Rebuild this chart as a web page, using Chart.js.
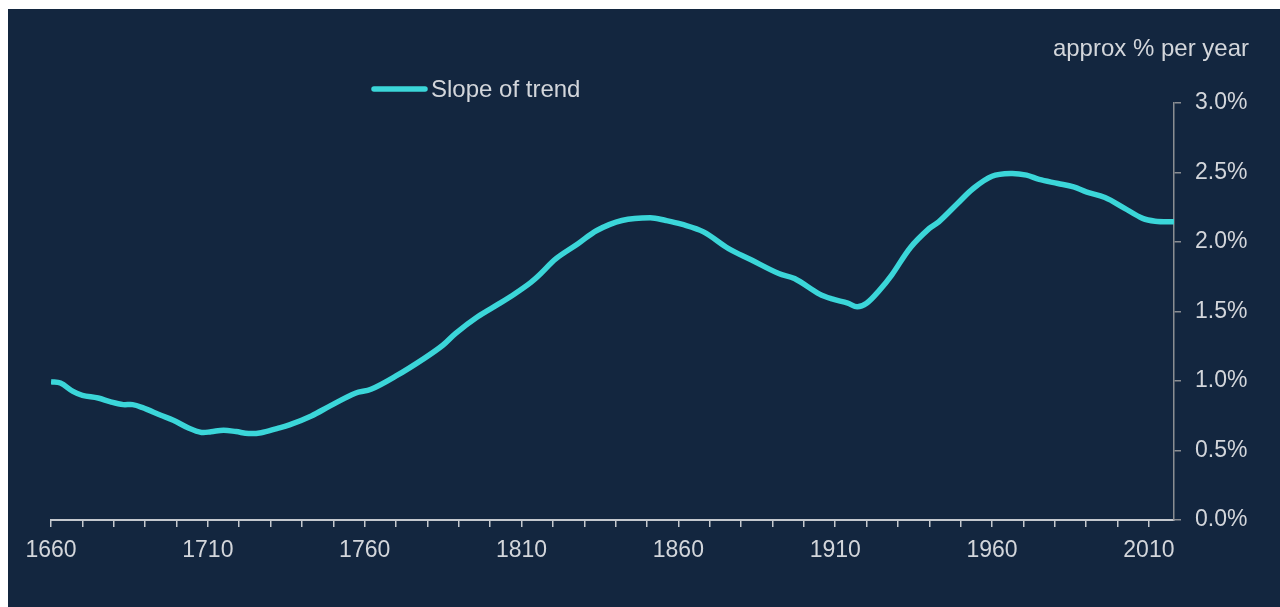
<!DOCTYPE html>
<html>
<head>
<meta charset="utf-8">
<script src="https://cdn.jsdelivr.net/npm/chart.js@4.4.1/dist/chart.umd.min.js"></script>
<style>
  html, body { margin: 0; padding: 0; background: #ffffff; }
  #panel { position: absolute; left: 8px; top: 9px; width: 1272px; height: 598px; background: #13263f; }
  #panel canvas { display: block; }
</style>
</head>
<body>
<div id="panel"><canvas id="slope" width="1272" height="598"></canvas></div>
<script>
// years and slope of the long-run trend (approx % per year)
const years = [1660, 1663, 1667, 1670, 1675, 1679, 1683, 1686, 1689, 1695, 1699, 1704, 1708, 1711, 1715, 1719, 1723, 1727, 1732, 1736,
  1743, 1749, 1757, 1762, 1770, 1779, 1785, 1789, 1796, 1803, 1808, 1813, 1816, 1821, 1828, 1834, 1842, 1851, 1856, 1861,
  1868, 1876, 1883, 1892, 1897, 1905, 1909, 1914, 1917, 1920, 1924, 1928, 1934, 1940, 1943, 1949, 1954, 1960, 1966, 1971,
  1975, 1981, 1986, 1990, 1996, 2002, 2008, 2012, 2018];
const slope = [0.995, 0.985, 0.925, 0.897, 0.878, 0.850, 0.830, 0.830, 0.810, 0.754, 0.718, 0.660, 0.630, 0.635, 0.646, 0.636, 0.622, 0.628, 0.658, 0.684,
  0.749, 0.821, 0.912, 0.940, 1.036, 1.163, 1.259, 1.343, 1.462, 1.558, 1.630, 1.710, 1.770, 1.880, 1.987, 2.083, 2.155, 2.175, 2.155, 2.128,
  2.073, 1.953, 1.874, 1.773, 1.737, 1.625, 1.590, 1.560, 1.534, 1.559, 1.650, 1.762, 1.961, 2.098, 2.145, 2.277, 2.385, 2.473, 2.493, 2.481,
  2.450, 2.421, 2.396, 2.361, 2.320, 2.246, 2.170, 2.150, 2.145];
const seriesName = "Slope of trend";
const unitLabel = "approx % per year";

const textColor = "#d3d6db";
const lineColor = "#3bd6d9";
const fontFamily = "'Liberation Sans', Arial, sans-serif";

// legend + unit label drawn above the plot
const extras = {
  id: "extras",
  afterDraw(chart) {
    const c = chart.ctx;
    const ds = chart.data.datasets[0];
    c.save();
    c.strokeStyle = ds.borderColor;
    c.lineWidth = 5.5;
    c.lineCap = "round";
    c.beginPath();
    c.moveTo(366, 80);
    c.lineTo(417, 80);
    c.stroke();
    c.fillStyle = textColor;
    c.font = "24px " + fontFamily;
    c.textBaseline = "middle";
    c.textAlign = "left";
    c.fillText(ds.label, 423, 81);
    c.textAlign = "right";
    c.fillText(unitLabel, 1241, 40);
    c.restore();
  }
};

new Chart(document.getElementById("slope"), {
  type: "line",
  data: {
    datasets: [{
      label: seriesName,
      data: years.map((y, i) => ({ x: y, y: slope[i] })),
      borderColor: lineColor,
      borderWidth: 5.5,
      pointRadius: 0,
      tension: 0.35,
      fill: false
    }]
  },
  options: {
    responsive: false,
    animation: false,
    layout: { padding: { left: 43, top: 94, right: 0, bottom: 0 } },
    plugins: { legend: { display: false }, tooltip: { enabled: false } },
    scales: {
      x: {
        type: "linear",
        min: 1660,
        max: 2018,
        afterFit(scale) { scale.height = 87; },
        border: { color: "#c4c8ce", width: 2 },
        grid: { drawOnChartArea: false, drawTicks: true, tickLength: 7, color: "#c4c8ce", lineWidth: 1.5 },
        ticks: {
          stepSize: 10,
          includeBounds: false,
          autoSkip: false,
          maxRotation: 0,
          padding: 10,
          color: textColor,
          font: { family: fontFamily, size: 23 },
          callback: v => ((v - 1660) % 50 === 0 ? String(v) : "")
        }
      },
      y: {
        position: "right",
        min: 0,
        max: 3,
        afterFit(scale) { scale.width = 106; },
        border: { color: "#8a8d92", width: 1.5 },
        grid: { drawOnChartArea: false, drawTicks: true, tickLength: 7, color: "#8a8d92", lineWidth: 1.5 },
        ticks: {
          stepSize: 0.5,
          padding: 14,
          color: textColor,
          font: { family: fontFamily, size: 23 },
          callback: v => v.toFixed(1) + "%"
        }
      }
    }
  },
  plugins: [extras]
});
</script>
</body>
</html>
